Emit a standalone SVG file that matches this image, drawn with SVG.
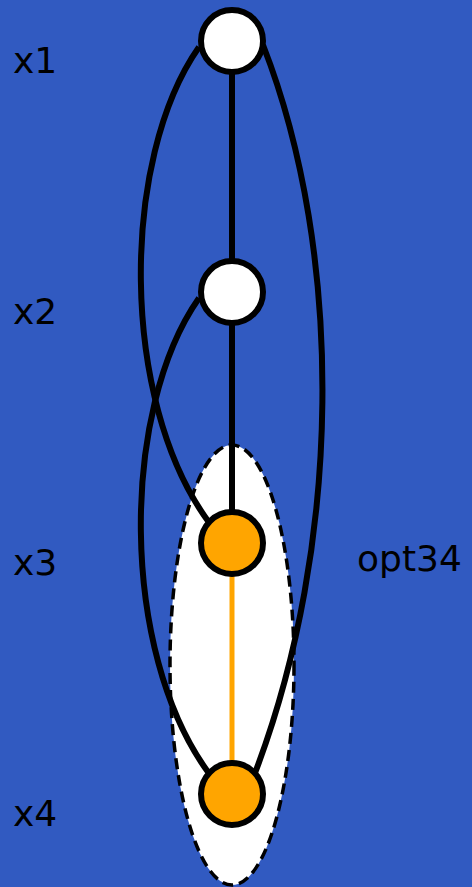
<svg xmlns="http://www.w3.org/2000/svg" width="472" height="887" viewBox="0 0 472 887">
<style>
.lbl{font-family:"DejaVu Sans",sans-serif;font-size:36px;fill:#000}
.e{fill:none;stroke:#000;stroke-width:6}
.n{stroke:#000;stroke-width:6}
</style>
<rect width="472" height="887" fill="#315AC1"/>
<g id="cluster-opt34">
<ellipse cx="232" cy="665" rx="62" ry="220" fill="#fff" stroke="#000" stroke-width="3.5" stroke-dasharray="11,6"/>
<text class="lbl" x="357" y="571">opt34</text>
</g>
<g id="labels">
<text class="lbl" x="13" y="73">x1</text>
<text class="lbl" x="13" y="324">x2</text>
<text class="lbl" x="13" y="575">x3</text>
<text class="lbl" x="13" y="826">x4</text>
</g>
<g id="edges">
<line class="e" x1="232" y1="41" x2="232" y2="292"/>
<line class="e" x1="232" y1="292" x2="232" y2="543"/>
<line x1="232" y1="543" x2="232" y2="794" stroke="#FFA500" stroke-width="5"/>
<path class="e" d="M199,47 C120,160 120,400 208,521"/>
<path class="e" d="M199,298 C120,411 120,651 208,772"/>
<path class="e" d="M263,45 C345,255 342,545 255,773"/>
</g>
<g id="x1"><circle class="n" cx="232" cy="41" r="31" fill="#fff"/></g>
<g id="x2"><circle class="n" cx="232" cy="292" r="31" fill="#fff"/></g>
<g id="x3"><circle class="n" cx="232" cy="543" r="31" fill="#FFA500"/></g>
<g id="x4"><circle class="n" cx="232" cy="794" r="31" fill="#FFA500"/></g>
</svg>
